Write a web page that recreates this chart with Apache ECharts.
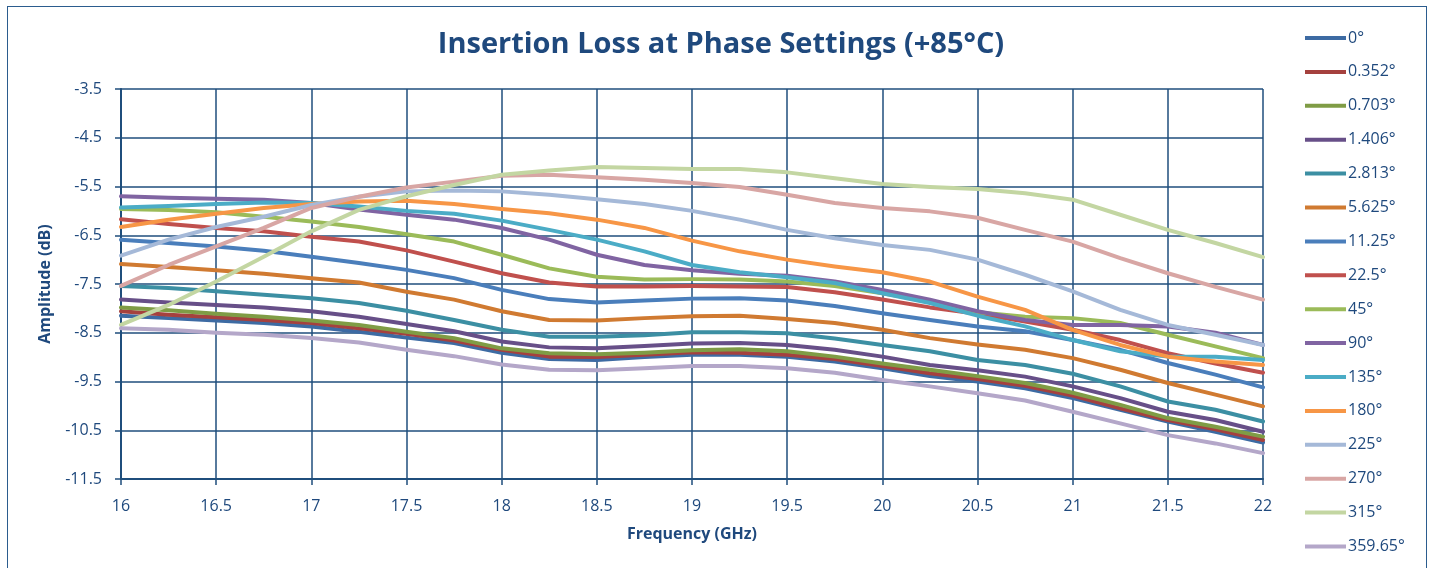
<!DOCTYPE html>
<html>
<head>
<meta charset="utf-8">
<script src="https://cdn.jsdelivr.net/npm/echarts@6/dist/echarts.min.js"></script>
<style>
  html, body { margin: 0; padding: 0; background: #ffffff; width: 1432px; height: 568px; overflow: hidden; }
  #frame { position: absolute; left: 7px; top: 6px; width: 1420px; height: 600px; border: 1.5px solid #2B5C8E; box-sizing: border-box; }
  #chart { position: absolute; left: 0; top: 0; width: 1432px; height: 568px; }
</style>
</head>
<body>
<div id="frame"></div>
<div id="chart"></div>
<script>
const freq = [16, 16.25, 16.5, 16.75, 17, 17.25, 17.5, 17.75, 18, 18.25, 18.5, 18.75, 19, 19.25, 19.5, 19.75, 20, 20.25, 20.5, 20.75, 21, 21.25, 21.5, 21.75, 22];
const seriesNames = ["0°", "0.352°", "0.703°", "1.406°", "2.813°", "5.625°", "11.25°", "22.5°", "45°", "90°", "135°", "180°", "225°", "270°", "315°", "359.65°"];
const yTicks = [-11.5, -10.5, -9.5, -8.5, -7.5, -6.5, -5.5, -4.5, -3.5];
const xTicks = [16, 16.5, 17, 17.5, 18, 18.5, 19, 19.5, 20, 20.5, 21, 21.5, 22];

const p0     = [-8.15,-8.20,-8.25,-8.30,-8.37,-8.48,-8.60,-8.71,-8.91,-9.04,-9.06,-9.00,-8.95,-8.95,-8.99,-9.09,-9.23,-9.39,-9.50,-9.64,-9.84,-10.08,-10.32,-10.53,-10.75];
const p0352  = [-8.06,-8.13,-8.18,-8.24,-8.30,-8.41,-8.52,-8.66,-8.85,-8.99,-9.00,-8.95,-8.90,-8.91,-8.95,-9.04,-9.18,-9.33,-9.45,-9.59,-9.79,-10.05,-10.29,-10.48,-10.70];
const p0703  = [-7.98,-8.04,-8.11,-8.17,-8.25,-8.34,-8.48,-8.61,-8.82,-8.92,-8.94,-8.91,-8.86,-8.84,-8.88,-8.99,-9.13,-9.26,-9.39,-9.53,-9.73,-9.98,-10.25,-10.43,-10.63];
const p1406  = [-7.82,-7.88,-7.93,-7.98,-8.06,-8.17,-8.32,-8.47,-8.68,-8.80,-8.82,-8.77,-8.72,-8.71,-8.75,-8.85,-8.99,-9.16,-9.27,-9.40,-9.60,-9.84,-10.12,-10.29,-10.53];
const p2813  = [-7.54,-7.58,-7.65,-7.72,-7.79,-7.89,-8.05,-8.24,-8.44,-8.58,-8.58,-8.55,-8.49,-8.49,-8.51,-8.62,-8.75,-8.88,-9.06,-9.16,-9.34,-9.60,-9.91,-10.08,-10.32];
const p5625  = [-7.09,-7.15,-7.22,-7.29,-7.38,-7.47,-7.66,-7.82,-8.06,-8.24,-8.25,-8.20,-8.16,-8.15,-8.22,-8.30,-8.44,-8.61,-8.74,-8.85,-9.02,-9.26,-9.53,-9.77,-10.01];
const p1125  = [-6.59,-6.66,-6.73,-6.82,-6.94,-7.07,-7.21,-7.38,-7.62,-7.81,-7.88,-7.84,-7.80,-7.79,-7.84,-7.95,-8.10,-8.24,-8.37,-8.47,-8.65,-8.85,-9.12,-9.36,-9.62];
const p225   = [-6.17,-6.27,-6.35,-6.42,-6.53,-6.63,-6.81,-7.04,-7.28,-7.47,-7.55,-7.55,-7.54,-7.55,-7.56,-7.67,-7.82,-7.98,-8.11,-8.27,-8.44,-8.65,-8.92,-9.13,-9.32];
const p45    = [-5.96,-5.98,-6.03,-6.12,-6.22,-6.33,-6.48,-6.63,-6.90,-7.18,-7.35,-7.41,-7.40,-7.41,-7.45,-7.54,-7.69,-7.86,-8.08,-8.17,-8.20,-8.30,-8.54,-8.78,-9.02];
const p90    = [-5.70,-5.73,-5.75,-5.77,-5.84,-5.97,-6.08,-6.18,-6.35,-6.59,-6.90,-7.11,-7.22,-7.29,-7.33,-7.45,-7.62,-7.82,-8.06,-8.24,-8.34,-8.34,-8.37,-8.50,-8.75];
const p135   = [-5.93,-5.90,-5.86,-5.83,-5.84,-5.91,-6.00,-6.06,-6.20,-6.39,-6.59,-6.83,-7.11,-7.26,-7.36,-7.48,-7.69,-7.89,-8.15,-8.37,-8.65,-8.88,-8.99,-8.99,-9.06];
const p180   = [-6.33,-6.18,-6.06,-5.94,-5.86,-5.81,-5.79,-5.86,-5.96,-6.05,-6.18,-6.35,-6.61,-6.83,-7.00,-7.14,-7.26,-7.45,-7.76,-8.03,-8.44,-8.75,-8.99,-9.09,-9.16];
const p225b  = [-6.92,-6.59,-6.33,-6.12,-5.88,-5.71,-5.60,-5.58,-5.60,-5.67,-5.76,-5.86,-6.00,-6.18,-6.39,-6.56,-6.70,-6.80,-7.00,-7.31,-7.65,-8.03,-8.34,-8.54,-8.75];
const p270   = [-7.54,-7.11,-6.73,-6.35,-5.94,-5.71,-5.52,-5.40,-5.28,-5.26,-5.31,-5.36,-5.43,-5.51,-5.67,-5.84,-5.94,-6.01,-6.14,-6.39,-6.63,-6.97,-7.28,-7.56,-7.82];
const p315   = [-8.34,-7.93,-7.45,-6.94,-6.42,-5.98,-5.70,-5.47,-5.26,-5.17,-5.10,-5.12,-5.14,-5.14,-5.21,-5.33,-5.45,-5.51,-5.55,-5.64,-5.77,-6.08,-6.39,-6.66,-6.95];
const p35965 = [-8.41,-8.44,-8.50,-8.54,-8.61,-8.70,-8.85,-8.98,-9.15,-9.26,-9.27,-9.23,-9.18,-9.18,-9.23,-9.32,-9.47,-9.60,-9.74,-9.89,-10.12,-10.36,-10.60,-10.77,-10.97];

const allValues = [p0, p0352, p0703, p1406, p2813, p5625, p1125, p225, p45, p90, p135, p180, p225b, p270, p315, p35965];
const colors = ["#3D6BA3", "#A5413E", "#7F9C45", "#674F88", "#3C8FA3", "#D07A31", "#4A7EBB", "#C0504D", "#9BBB59", "#8064A2", "#4BACC6", "#F79646", "#A5B9D8", "#D8A6A4", "#C3D6A2", "#B4A7C9"];

const navy = "#1F497D";
const gridCol = "#1F4E7C";
const font = "'Open Sans', 'Noto Sans', sans-serif";

const chart = echarts.init(document.getElementById('chart'), null, { renderer: 'canvas' });
chart.setOption({
  animation: false,
  backgroundColor: 'transparent',
  color: colors,
  title: {
    text: 'Insertion Loss at Phase Settings (+85°C)',
    left: 716, top: 25, textAlign: 'center',
    textStyle: { fontFamily: font, fontWeight: 'bold', fontSize: 29, color: navy }
  },
  legend: {
    orient: 'vertical', left: 1300, top: 24,
    itemWidth: 41, itemHeight: 4, itemGap: 15.9,
    icon: 'rect',
    data: seriesNames,
    textStyle: { fontFamily: font, fontSize: 16, color: navy, lineHeight: 18, padding: [0, 0, 0, -3] }
  },
  grid: { left: 121, right: 169, top: 89, bottom: 89, containLabel: false },
  xAxis: {
    type: 'value', min: 16, max: 22, interval: 0.5,
    name: 'Frequency (GHz)', nameLocation: 'middle', nameGap: 47,
    nameTextStyle: { fontFamily: font, fontWeight: 'bold', fontSize: 16, color: navy },
    axisLine: { show: true, lineStyle: { color: gridCol, width: 2 } },
    axisTick: { show: true, length: 6, inside: false, lineStyle: { color: gridCol, width: 1.5 } },
    axisLabel: { margin: 19, fontFamily: font, fontSize: 16, color: navy,
      formatter: v => (xTicks.includes(v) ? String(v) : '') },
    splitLine: { show: true, lineStyle: { color: gridCol, width: 1.5 } }
  },
  yAxis: {
    type: 'value', min: -11.5, max: -3.5, interval: 1,
    name: 'Amplitude (dB)', nameLocation: 'middle', nameGap: 68, nameRotate: 90,
    nameTextStyle: { fontFamily: font, fontWeight: 'bold', fontSize: 16, color: navy },
    axisLine: { show: true, lineStyle: { color: gridCol, width: 2 } },
    axisTick: { show: true, length: 6, inside: false, lineStyle: { color: gridCol, width: 1.5 } },
    axisLabel: { margin: 19, fontFamily: font, fontSize: 16, color: navy,
      formatter: v => (yTicks.includes(v) ? v.toFixed(1) : '') },
    splitLine: { show: true, lineStyle: { color: gridCol, width: 1.5 } }
  },
  series: seriesNames.map((name, i) => ({
    name: name,
    type: 'line',
    showSymbol: false,
    symbol: 'none',
    smooth: false,
    lineStyle: { width: 4, color: colors[i], cap: 'round', join: 'round' },
    itemStyle: { color: colors[i] },
    data: freq.map((f, j) => [f, allValues[i][j]])
  }))
});
</script>
</body>
</html>
